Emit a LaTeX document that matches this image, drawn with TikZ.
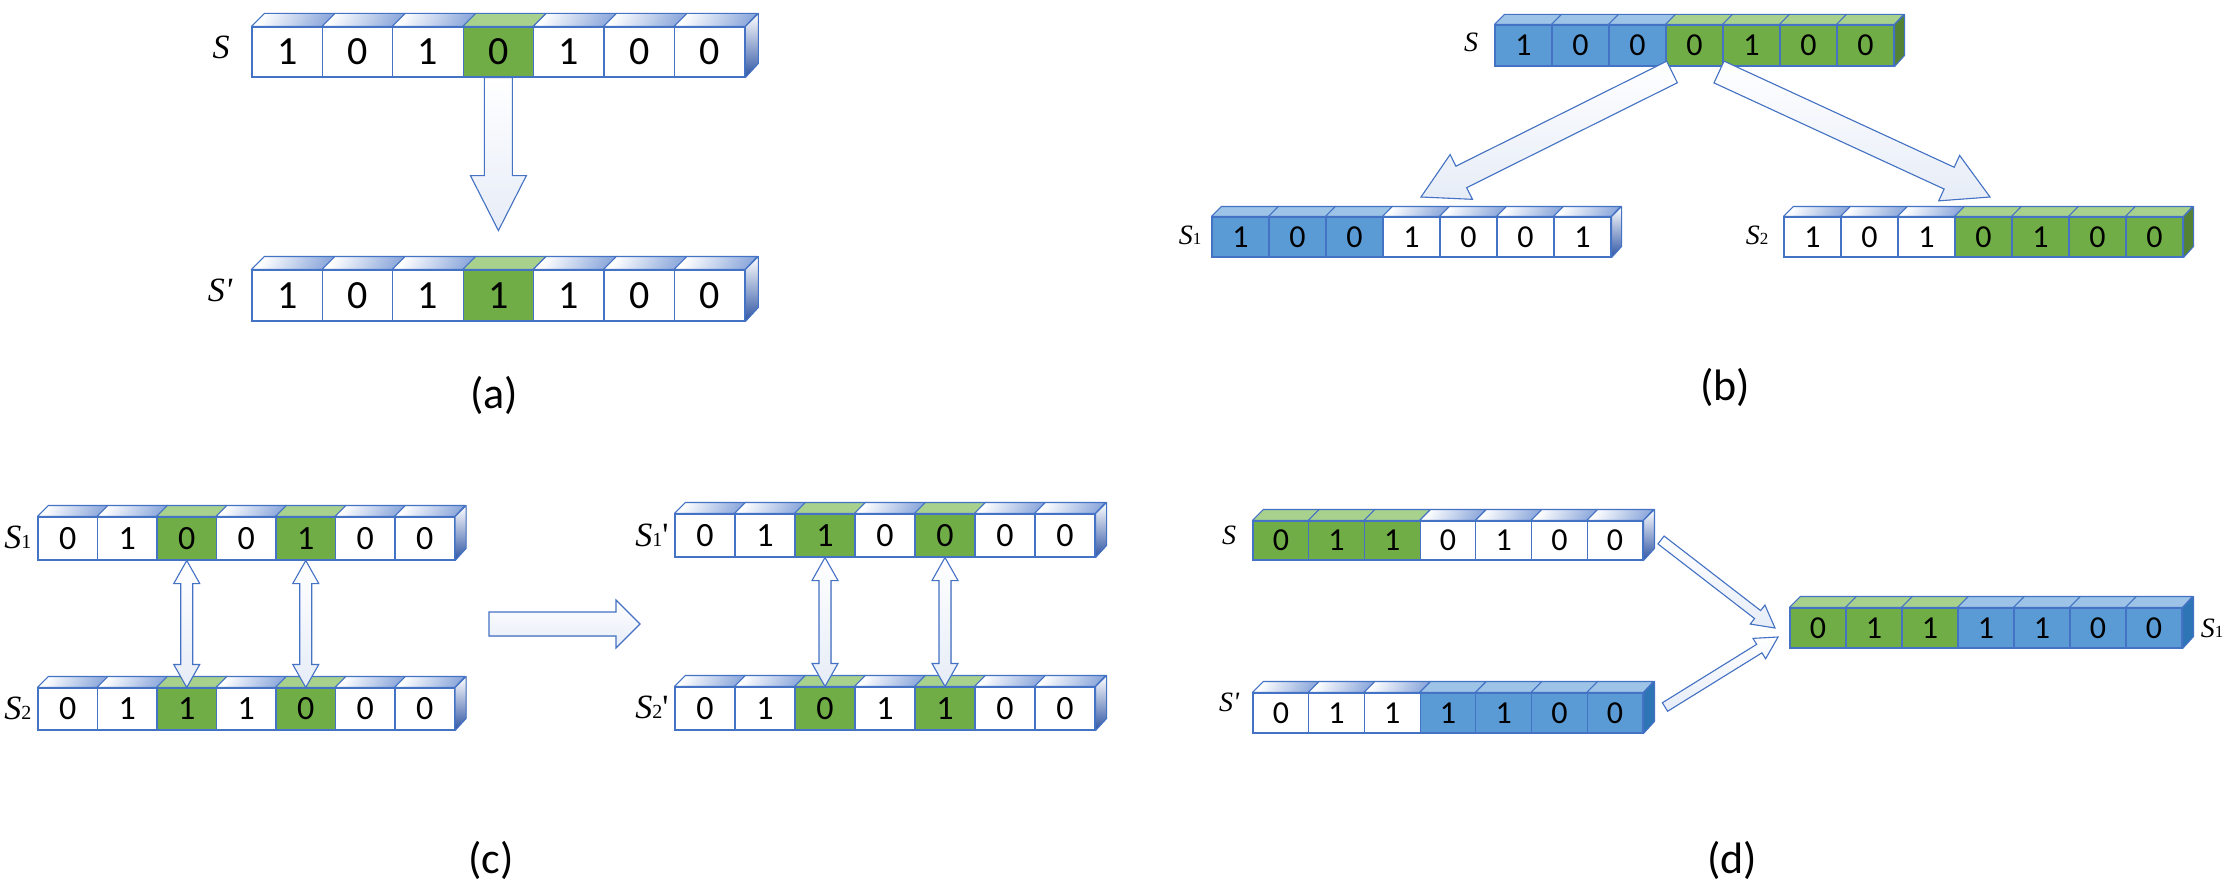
\documentclass[tikz,border=0pt]{standalone}
\usepackage{fontspec}
\setmainfont{Carlito}
\newfontfamily\tnr{Liberation Serif}
\usetikzlibrary{calc}
\definecolor{edge}{HTML}{4472C4}
\definecolor{gfill}{HTML}{70AD47}
\definecolor{gtop}{HTML}{A9D18E}
\definecolor{gside}{HTML}{548235}
\definecolor{bfill}{HTML}{5B9BD5}
\definecolor{btop}{HTML}{9DC3E6}
\definecolor{bside}{HTML}{2E75B6}
\definecolor{wtop}{HTML}{8FAADC}
\definecolor{wside}{HTML}{2F55A4}
\definecolor{afill}{HTML}{E6ECF7}
\tikzset{
 cellbox/.style={draw=edge,line width=1.1pt,inner sep=0pt,text=black},
 fillW/.style={fill=white}, fillG/.style={fill=gfill}, fillB/.style={fill=bfill},
 topW/.style={left color=white,right color=wtop,shading angle=60}, topG/.style={fill=gtop}, topB/.style={fill=btop},
 sideW/.style={top color=white,bottom color=wside}, sideG/.style={fill=gside}, sideB/.style={fill=bside},
 blockarr/.style={draw=edge,line width=1.1pt,top color=white,bottom color=afill,line join=miter},
 lab/.style={font=\tnr\itshape\fontsize{34}{34}\selectfont},
 captext/.style={font=\fontsize{44}{44}\selectfont}
}
% name, x, y, w, h, d, list, last colour, font size
\newcommand\cellrow[9]{%
 \foreach \dg/\cl [count=\i] in {#7} {
  \node[cellbox,fill\cl,minimum width=#4pt,minimum height=#5pt,font=\fontsize{#9}{#9}\selectfont] (#1-\i) at ({#2+(\i-0.5)*#4},{#3+#5/2}) {\dg};
  \filldraw[top\cl,draw=edge,line width=1.1pt,line join=round] (#1-\i.north west) -- ++(#6,-#6) -- ++(#4,0) -- (#1-\i.north east) -- cycle;
 }
 \filldraw[side#8,draw=edge,line width=1.1pt,line join=round] (#1-7.north east) -- ++(#6,-#6) -- ++(0,#5) -- (#1-7.south east) -- cycle;
}
% single block arrow: A, B, shaft half, head half, head length
\newcommand\barrow[5]{%
 \path ($(#2)!#5pt!(#1)$) coordinate (hh);
 \filldraw[blockarr] ($(#1)!#3pt!90:(#2)$) -- ($(hh)!#3pt!-90:(#1)$) -- ($(hh)!#4pt!-90:(#1)$) -- (#2)
  -- ($(hh)!#4pt!90:(#1)$) -- ($(hh)!#3pt!90:(#1)$) -- ($(#1)!#3pt!-90:(#2)$) -- cycle;
}
\newcommand\dbarrow[5]{%
 \path ($(#1)!#5pt!(#2)$) coordinate (ha) ($(#2)!#5pt!(#1)$) coordinate (hb);
 \filldraw[blockarr] (#1) -- ($(ha)!#4pt!90:(#2)$) -- ($(ha)!#3pt!90:(#2)$) -- ($(hb)!#3pt!-90:(#1)$) -- ($(hb)!#4pt!-90:(#1)$) -- (#2)
  -- ($(hb)!#4pt!90:(#1)$) -- ($(hb)!#3pt!90:(#1)$) -- ($(ha)!#3pt!-90:(#2)$) -- ($(ha)!#4pt!-90:(#2)$) -- cycle;
}
\begin{document}
\begin{tikzpicture}[x=1pt,y=-1pt]
\useasboundingbox[fill=white] (0,0) rectangle (2224,888);
% ---------- (a)
\cellrow{a1}{252}{27}{70.4}{50}{13}{1/W,0/W,1/W,0/G,1/W,0/W,0/W}{W}{40}
\cellrow{a2}{252}{270}{70.4}{51}{13}{1/W,0/W,1/W,1/G,1/W,0/W,0/W}{W}{40}
\node[lab] (aS) at (221,47) {S};
\node[lab] (aS2) at (220,290) {S'};
\coordinate (aTip) at ($(a1-4.south)+(0,153)$);
\barrow{a1-4.south}{aTip}{14}{28}{55}
\node[captext] (capa) at (494,395) {(a)};
% ---------- (b)
\cellrow{b0}{1495}{25}{57}{41}{10}{1/B,0/B,0/B,0/G,1/G,0/G,0/G}{G}{32}
\cellrow{b1}{1212}{217}{57}{40}{10}{1/B,0/B,0/B,1/W,0/W,0/W,1/W}{W}{32}
\cellrow{b2}{1784}{217}{57}{40}{10}{1/W,0/W,1/W,0/G,1/G,0/G,0/G}{G}{32}
\node[lab,font=\tnr\itshape\fontsize{28}{28}\selectfont] (bS) at (1471,42) {S};
\node[lab,font=\tnr\itshape\fontsize{28}{28}\selectfont] (bS1) at (1190,235) {S\upshape\fontsize{17}{17}\selectfont 1};
\node[lab,font=\tnr\itshape\fontsize{28}{28}\selectfont] (bS2) at (1757,235) {S\upshape\fontsize{17}{17}\selectfont 2};
\coordinate (bL0) at (1672,72); \coordinate (bL1) at (1421,197);
\coordinate (bR0) at (1719,72); \coordinate (bR1) at (1990,197);
\barrow{bL0}{bL1}{12}{25}{45}
\barrow{bR0}{bR1}{12}{25}{45}
\node[captext] (capb) at (1725,387) {(b)};
% ---------- (c)
\cellrow{c1}{38}{517}{59.5}{43}{11}{0/W,1/W,0/G,0/W,1/G,0/W,0/W}{W}{34}
\cellrow{c2}{38}{688}{59.5}{42}{11}{0/W,1/W,1/G,1/W,0/G,0/W,0/W}{W}{34}
\cellrow{c3}{675}{514}{60}{43}{11}{0/W,1/W,1/G,0/W,0/G,0/W,0/W}{W}{34}
\cellrow{c4}{675}{687}{60}{43}{11}{0/W,1/W,0/G,1/W,1/G,0/W,0/W}{W}{34}
\node[lab] (cS1) at (18,537) {S\upshape\fontsize{20}{20}\selectfont 1};
\node[lab] (cS2) at (18,708) {S\upshape\fontsize{20}{20}\selectfont 2};
\node[lab] (cS3) at (652,535) {S\upshape\fontsize{20}{20}\selectfont 1\fontsize{34}{34}\selectfont '};
\node[lab] (cS4) at (652,707) {S\upshape\fontsize{20}{20}\selectfont 2\fontsize{34}{34}\selectfont '};
\dbarrow{c1-3.south}{c2-3.north}{6}{13}{23}
\dbarrow{c1-5.south}{c2-5.north}{6}{13}{23}
\dbarrow{c3-3.south}{c4-3.north}{6}{13}{23}
\dbarrow{c3-5.south}{c4-5.north}{6}{13}{23}
\coordinate (cm0) at (489,624); \coordinate (cm1) at (640,624);
\barrow{cm0}{cm1}{12}{24}{24}
\node[captext] (capc) at (491,860) {(c)};
% ---------- (d)
\cellrow{d1}{1253}{521}{55.7}{39}{11}{0/G,1/G,1/G,0/W,1/W,0/W,0/W}{W}{32}
\cellrow{d2}{1253}{693}{55.7}{40}{11}{0/W,1/W,1/W,1/B,1/B,0/B,0/B}{B}{32}
\cellrow{d3}{1790}{608}{56}{40}{11}{0/G,1/G,1/G,1/B,1/B,0/B,0/B}{B}{32}
\node[lab,font=\tnr\itshape\fontsize{28}{28}\selectfont] (dS) at (1229,535) {S};
\node[lab,font=\tnr\itshape\fontsize{28}{28}\selectfont] (dS2) at (1229,702) {S'};
\node[lab,font=\tnr\itshape\fontsize{28}{28}\selectfont] (dS3) at (2212,628) {S\upshape\fontsize{17}{17}\selectfont 1};
\coordinate (dA0) at (1661,540); \coordinate (dA1) at (1775,628);
\coordinate (dB0) at (1665,707); \coordinate (dB1) at (1778,637);
\barrow{dA0}{dA1}{5}{12}{22}
\barrow{dB0}{dB1}{5}{12}{22}
\node[captext] (capd) at (1732,860) {(d)};
\end{tikzpicture}
\end{document}
